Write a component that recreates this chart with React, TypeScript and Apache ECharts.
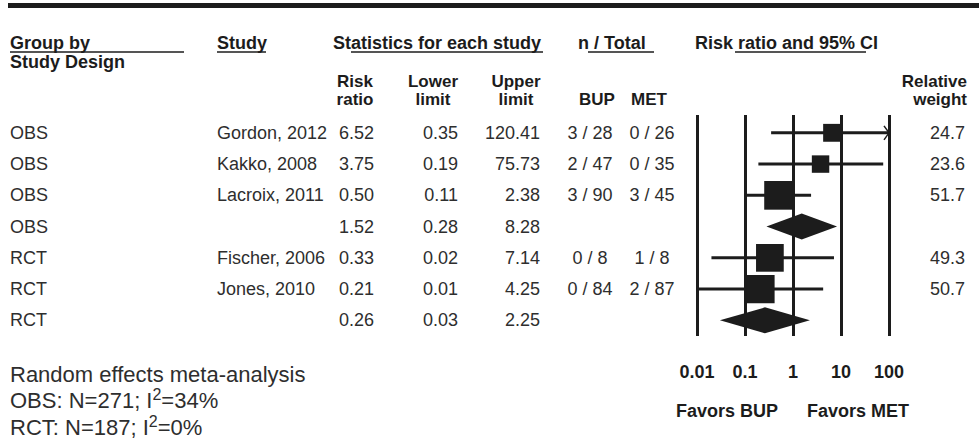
import React, { useEffect, useRef } from "react";
import * as echarts from "echarts";

// ---------- data ----------
const groups = ["OBS", "OBS", "OBS", "OBS", "RCT", "RCT", "RCT"];
const studies = ["Gordon, 2012", "Kakko, 2008", "Lacroix, 2011", "", "Fischer, 2006", "Jones, 2010", ""];
const riskRatio = [6.52, 3.75, 0.5, 1.52, 0.33, 0.21, 0.26];
const lowerLimit = [0.35, 0.19, 0.11, 0.28, 0.02, 0.01, 0.03];
const upperLimit = [120.41, 75.73, 2.38, 8.28, 7.14, 4.25, 2.25];
const bupCounts = ["3 / 28", "2 / 47", "3 / 90", "", "0 / 8", "0 / 84", ""];
const metCounts = ["0 / 26", "0 / 35", "3 / 45", "", "1 / 8", "2 / 87", ""];
const relWeight: (number | null)[] = [24.7, 23.6, 51.7, null, 49.3, 50.7, null];
const isSummary = [false, false, false, true, false, false, true];
const xTickLabels = ["0.01", "0.1", "1", "10", "100"];
const footerGroups = ["OBS", "RCT"];
const footerN = [271, 187];
const footerI2 = [34, 0];

const X_MIN = 0.01;
const X_MAX = 100;
const INK = "#1c1c1c";
const TXT = "#2e2e2e";
const FONT = '"Liberation Sans", Arial, Helvetica, sans-serif';

export default function App() {
  const ref = useRef<HTMLDivElement>(null);

  useEffect(() => {
    const chart = echarts.init(ref.current as HTMLDivElement, null, { renderer: "svg" });
    const rows = groups.map((_, i) => i);
    const studyRows = rows.filter((i) => !isSummary[i]);
    const sumRows = rows.filter((i) => isSummary[i]);

    const ciData = studyRows.map((i) => [i, lowerLimit[i], upperLimit[i]]);
    const sqData = studyRows.map((i) => [riskRatio[i], i, relWeight[i] as number]);
    const dmData = sumRows.map((i) => [i, lowerLimit[i], upperLimit[i], riskRatio[i]]);

    chart.setOption({
      animation: false,
      grid: { left: 697, right: 90, top: 115, bottom: 111 },
      xAxis: {
        type: "log",
        logBase: 10,
        min: X_MIN,
        max: X_MAX,
        axisLine: { show: false },
        axisTick: { show: false },
        splitLine: { show: true, showMinLine: true, showMaxLine: true, lineStyle: { color: INK, width: 3 } },
        axisLabel: {
          margin: 27,
          fontSize: 18,
          fontWeight: "bold",
          fontFamily: FONT,
          color: INK,
          formatter: (v: number) => {
            const idx = Math.round(Math.log10(v)) + 2;
            return xTickLabels[idx] ?? String(v);
          },
        },
      },
      yAxis: { type: "value", min: -0.57, max: 6.5, inverse: true, show: false },
      series: [
        {
          type: "custom",
          name: "ci",
          z: 2,
          clip: false,
          data: ciData,
          encode: { x: [1, 2], y: 0 },
          renderItem: (params: any, api: any) => {
            const row = api.value(0);
            const lo = api.value(1);
            const hi = api.value(2);
            const p1 = api.coord([Math.max(lo, X_MIN), row]);
            const p2 = api.coord([Math.min(hi, X_MAX), row]);
            const children: any[] = [
              {
                type: "line",
                shape: { x1: p1[0], y1: p1[1], x2: p2[0], y2: p2[1] },
                style: { stroke: INK, lineWidth: 3 },
              },
            ];
            if (hi > X_MAX) {
              children.push({
                type: "polyline",
                shape: { points: [[p2[0] - 5, p2[1] - 7], [p2[0], p2[1]], [p2[0] - 5, p2[1] + 7]] },
                style: { stroke: INK, lineWidth: 1.5, fill: "none" },
              });
            }
            return { type: "group", children };
          },
        },
        {
          type: "scatter",
          name: "rr",
          z: 3,
          data: sqData,
          symbol: "rect",
          symbolSize: (v: number[]) => 8 + 0.4 * v[2],
          itemStyle: { color: INK, opacity: 1 },
        },
        {
          type: "custom",
          name: "summary",
          z: 3,
          clip: false,
          data: dmData,
          encode: { x: [1, 2, 3], y: 0 },
          renderItem: (params: any, api: any) => {
            const row = api.value(0);
            const pl = api.coord([api.value(1), row]);
            const ph = api.coord([api.value(2), row]);
            const pm = api.coord([api.value(3), row]);
            const h = 13;
            return {
              type: "polygon",
              shape: { points: [[pl[0], pl[1]], [pm[0], pm[1] - h], [ph[0], ph[1]], [pm[0], pm[1] + h]] },
              style: { fill: INK },
            };
          },
        },
      ],
    });

    const rowY = (i: number) => chart.convertToPixel({ yAxisIndex: 0 }, i) as number;

    const txt = (
      text: string,
      x: number,
      y: number,
      align: string,
      bold = false,
      size = 18,
      extra: any = {}
    ) => ({
      type: "text",
      silent: true,
      style: {
        text,
        x,
        y,
        align,
        textAlign: align,
        verticalAlign: "middle",
        textVerticalAlign: "middle",
        fontSize: size,
        fontWeight: bold ? "bold" : "normal",
        fontFamily: FONT,
        fill: bold ? INK : TXT,
        ...extra,
      },
    });

    const hline = (x1: number, x2: number, y: number, w = 1.5) => ({
      type: "line",
      silent: true,
      shape: { x1, y1: y, x2, y2: y },
      style: { stroke: INK, lineWidth: w },
    });

    const els: any[] = [];
    // top bar
    els.push({ type: "rect", silent: true, shape: { x: 8, y: 3, width: 971, height: 5 }, style: { fill: INK } });

    // header row 1
    const h1 = 43;
    els.push(txt("Group by\nStudy Design", 10, 52.5, "left", true, 18, { lineHeight: 19 }));
    els.push(txt("Study", 217, h1, "left", true));
    els.push(txt("Statistics for each study", 333, h1, "left", true));
    els.push(txt("n / Total", 578, h1, "left", true));
    els.push(txt("Risk ratio and 95% CI", 695, h1, "left", true));
    const ul = 52;
    els.push(hline(10, 184, ul));
    els.push(hline(217, 266, ul));
    els.push(hline(351, 543, ul));
    els.push(hline(588, 654, ul));
    els.push(hline(735, 866, ul));

    // header row 2 (two-line headers)
    const h2 = 90.5;
    const h2b = 99;
    const two = { lineHeight: 18 };
    els.push(txt("Risk\nratio", 355, h2, "center", true, 17, two));
    els.push(txt("Lower\nlimit", 433, h2, "center", true, 17, two));
    els.push(txt("Upper\nlimit", 516, h2, "center", true, 17, two));
    els.push(txt("BUP", 597, h2b, "center", true, 17));
    els.push(txt("MET", 649, h2b, "center", true, 17));
    els.push(txt("Relative\nweight", 967, h2, "right", true, 17, two));

    // data rows
    rows.forEach((i) => {
      const y = rowY(i);
      els.push(txt(groups[i], 10, y, "left"));
      if (studies[i]) els.push(txt(studies[i], 217, y, "left"));
      els.push(txt(riskRatio[i].toFixed(2), 374, y, "right"));
      els.push(txt(lowerLimit[i].toFixed(2), 458, y, "right"));
      els.push(txt(upperLimit[i].toFixed(2), 540, y, "right"));
      if (bupCounts[i]) els.push(txt(bupCounts[i], 590, y, "center"));
      if (metCounts[i]) els.push(txt(metCounts[i], 652, y, "center"));
      const w = relWeight[i];
      if (w !== null) els.push(txt(w.toFixed(1), 965, y, "right"));
    });

    // favors labels
    els.push(txt("Favors BUP", 727, 411, "center", true));
    els.push(txt("Favors MET", 858, 411, "center", true));

    // footer
    els.push(txt("Random effects meta-analysis", 10, 374, "left", false, 22));
    footerGroups.forEach((g, k) => {
      els.push(
        txt(`${g}: N=${footerN[k]}; I{sup|2}=${footerI2[k]}%`, 10, 400 + k * 27, "left", false, 22, {
          lineHeight: 28,
          rich: {
            sup: {
              fontSize: 16,
              lineHeight: 14,
              verticalAlign: "top",
              fontFamily: FONT,
              fill: TXT,
            },
          },
        })
      );
    });

    chart.setOption({ graphic: { elements: els } });

    return () => {
      chart.dispose();
    };
  }, []);

  return (
    <div
      ref={ref}
      style={{ position: "fixed", left: 0, top: 0, width: 979, height: 447, background: "#ffffff" }}
    />
  );
}
